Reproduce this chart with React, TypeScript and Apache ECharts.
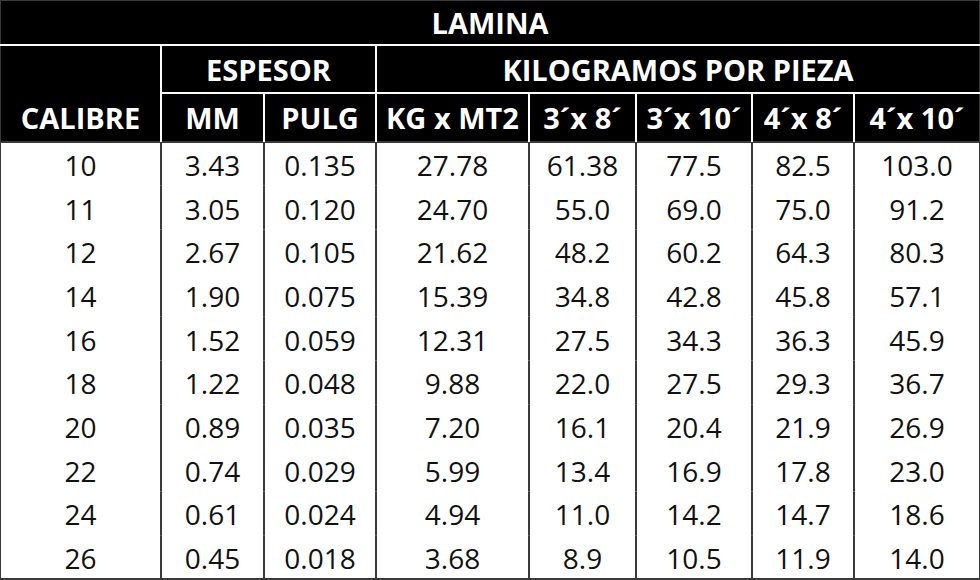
import React, { useEffect, useRef } from "react";
import * as echarts from "echarts";

// ---- data ----
const title = "LAMINA";
const groupHeaders = ["ESPESOR", "KILOGRAMOS POR PIEZA"];
const columnHeaders = ["CALIBRE", "MM", "PULG", "KG x MT2", "3´x 8´", "3´x 10´", "4´x 8´", "4´x 10´"];
const calibre = ["10", "11", "12", "14", "16", "18", "20", "22", "24", "26"];
const espesorMM = ["3.43", "3.05", "2.67", "1.90", "1.52", "1.22", "0.89", "0.74", "0.61", "0.45"];
const espesorPulg = ["0.135", "0.120", "0.105", "0.075", "0.059", "0.048", "0.035", "0.029", "0.024", "0.018"];
const kgPorMt2 = ["27.78", "24.70", "21.62", "15.39", "12.31", "9.88", "7.20", "5.99", "4.94", "3.68"];
const kg3x8 = ["61.38", "55.0", "48.2", "34.8", "27.5", "22.0", "16.1", "13.4", "11.0", "8.9"];
const kg3x10 = ["77.5", "69.0", "60.2", "42.8", "34.3", "27.5", "20.4", "16.9", "14.2", "10.5"];
const kg4x8 = ["82.5", "75.0", "64.3", "45.8", "36.3", "29.3", "21.9", "17.8", "14.7", "11.9"];
const kg4x10 = ["103.0", "91.2", "80.3", "57.1", "45.9", "36.7", "26.9", "23.0", "18.6", "14.0"];

// ---- layout (relative units) ----
const colWidths = [161, 103, 112, 153, 107, 116, 102, 126];
const headerRowHeights = [45, 48, 49];

const columns = [calibre, espesorMM, espesorPulg, kgPorMt2, kg3x8, kg3x10, kg4x8, kg4x10];

const colEdges: number[] = [0];
colWidths.forEach((w) => colEdges.push(colEdges[colEdges.length - 1] + w));
const totalWidth = colEdges[colEdges.length - 1];
const rowEdges: number[] = [0];
headerRowHeights.forEach((h) => rowEdges.push(rowEdges[rowEdges.length - 1] + h));
const headerHeight = rowEdges[rowEdges.length - 1];

type HCell = { text: string; c0: number; c1: number; r: number };
const headerCells: HCell[] = [
  { text: title, c0: 0, c1: columnHeaders.length, r: 0 },
  { text: groupHeaders[0], c0: 1, c1: 3, r: 1 },
  { text: groupHeaders[1], c0: 3, c1: columnHeaders.length, r: 1 },
  ...columnHeaders.map((t, i) => ({ text: t, c0: i, c1: i + 1, r: 2 })),
];

const bodyData: number[][] = [];
calibre.forEach((_, r) => {
  columns.forEach((_, c) => bodyData.push([c, r]));
});

const FONT = "'Open Sans', 'Noto Sans', sans-serif";

export default function App() {
  const ref = useRef<HTMLDivElement>(null);
  useEffect(() => {
    document.body.style.margin = "0";
    const chart = echarts.init(ref.current!, undefined, { renderer: "svg" });
    chart.setOption({
      animation: false,
      backgroundColor: "#ffffff",
      grid: [
        {
          left: 0, right: 0, top: 0, height: headerHeight,
          show: true, backgroundColor: "#000000", borderColor: "#3a3a3a", borderWidth: 2,
        },
        {
          left: 0, right: 0, top: headerHeight, height: 437,
          show: true, backgroundColor: "#ffffff", borderColor: "#3a3a3a", borderWidth: 2,
        },
      ],
      xAxis: [
        { type: "value", gridIndex: 0, min: 0, max: totalWidth, show: false },
        { type: "value", gridIndex: 1, min: 0, max: totalWidth, show: false },
      ],
      yAxis: [
        { type: "value", gridIndex: 0, min: 0, max: headerHeight, inverse: true, show: false },
        { type: "category", gridIndex: 1, data: calibre, inverse: true, show: false },
      ],
      series: [
        {
          type: "custom",
          xAxisIndex: 0,
          yAxisIndex: 0,
          data: headerCells.map((h) => [colEdges[h.c0], rowEdges[h.r]]),
          encode: { x: 0, y: 1 },
          renderItem: (params: any, api: any) => {
            const cell = headerCells[params.dataIndex];
            const xL = api.coord([colEdges[cell.c0], 0])[0];
            const xR = api.coord([colEdges[cell.c1], 0])[0];
            const yT = api.coord([0, rowEdges[cell.r]])[1];
            const yB = api.coord([0, rowEdges[cell.r + 1]])[1];
            const children: any[] = [
              {
                type: "text",
                x: (xL + xR) / 2,
                y: (yT + yB) / 2,
                style: {
                  text: cell.text,
                  fill: "#ffffff",
                  fontFamily: FONT,
                  fontWeight: "bold",
                  fontSize: 29,
                  align: "center",
                  verticalAlign: "middle",
                },
              },
            ];
            const lineStyle = { stroke: "#ffffff", lineWidth: 2 };
            if (cell.r >= 1 && cell.c0 > 0) {
              children.push({ type: "line", shape: { x1: xL, y1: yT, x2: xL, y2: yB }, style: lineStyle });
            }
            if (cell.r === 0 || (cell.r === 1 && cell.c0 > 0)) {
              children.push({ type: "line", shape: { x1: xL, y1: yB, x2: xR, y2: yB }, style: lineStyle });
            }
            return { type: "group", children };
          },
        },
        {
          type: "custom",
          xAxisIndex: 1,
          yAxisIndex: 1,
          data: bodyData,
          encode: { x: 0, y: 1 },
          renderItem: (params: any, api: any) => {
            const c = api.value(0);
            const r = api.value(1);
            const xL = api.coord([colEdges[c], r])[0];
            const xR = api.coord([colEdges[c + 1], r])[0];
            const yC = api.coord([0, r])[1];
            const h = api.size([0, 1])[1];
            const children: any[] = [
              {
                type: "text",
                x: (xL + xR) / 2,
                y: yC + 1,
                style: {
                  text: columns[c][r],
                  fill: "#111111",
                  fontFamily: FONT,
                  fontWeight: "normal",
                  fontSize: 28,
                  align: "center",
                  verticalAlign: "middle",
                },
              },
            ];
            if (c > 0) {
              children.push({
                type: "line",
                shape: { x1: xL, y1: yC - h / 2, x2: xL, y2: yC + h / 2 },
                style: { stroke: "#3a3a3a", lineWidth: 2 },
              });
            }
            return { type: "group", children };
          },
        },
      ],
    });
    return () => chart.dispose();
  }, []);
  return <div ref={ref} style={{ width: 980, height: 580 }} />;
}
